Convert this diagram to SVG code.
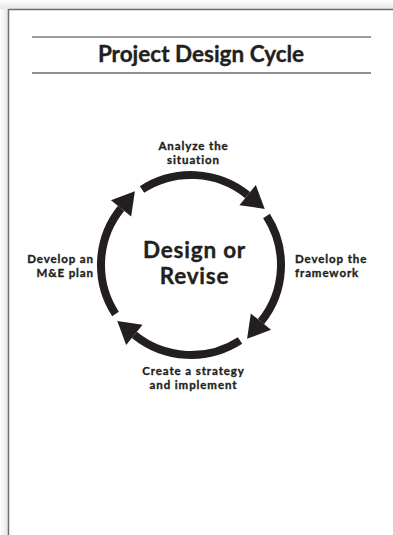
<svg xmlns="http://www.w3.org/2000/svg" xmlns:xlink="http://www.w3.org/1999/xlink" width="393" height="535" viewBox="0 0 393 535">
  <style>
    .t { font-family: Lato, "Liberation Sans", sans-serif; font-weight: bold; fill: #231f20; stroke: #231f20; stroke-width: 0.35; }
    .lbl { font-size: 11.5px; letter-spacing: 0.9px; }
    .big { font-size: 22.5px; letter-spacing: 0.8px; }
    .ring { fill: none; stroke: #231f20; stroke-width: 8; stroke-linecap: butt; }
    .head { fill: #231f20; }
  </style>
  <defs>
    <linearGradient id="shL" x1="0" y1="0" x2="1" y2="0">
      <stop offset="0" stop-color="#ffffff"/>
      <stop offset="1" stop-color="#e6e6e6"/>
    </linearGradient>
    <linearGradient id="shT" x1="0" y1="0" x2="0" y2="1">
      <stop offset="0" stop-color="#ffffff"/>
      <stop offset="1" stop-color="#e6e6e6"/>
    </linearGradient>
    <g id="arcArrow">
      <path class="ring" d="M 141.99 189.52 A 90 90 0 0 1 247.64 195.06"/>
      <polygon class="head" points="0,-13 22,0 0,13" transform="translate(247.64 195.06) rotate(39)"/>
    </g>
  </defs>

  <g id="page">
    <rect x="0" y="0" width="393" height="535" fill="#ffffff"/>
    <rect x="0" y="0" width="8" height="535" fill="url(#shL)"/>
    <rect x="0" y="0" width="393" height="9" fill="url(#shT)"/>
    <line x1="8.5" y1="9.5" x2="393" y2="9.5" stroke="#6e6e6e" stroke-width="1.5"/>
    <line x1="8.5" y1="9" x2="8.5" y2="535" stroke="#6e6e6e" stroke-width="1.5"/>
  </g>

  <g id="title">
    <line x1="32" y1="37" x2="371" y2="37" stroke="#3a3a3a" stroke-width="1"/>
    <text class="t" x="201" y="62" font-size="22.5" text-anchor="middle">Project Design Cycle</text>
    <line x1="32" y1="73" x2="371" y2="73" stroke="#6a6a6a" stroke-width="1.5"/>
  </g>

  <g id="connectors">
    <use xlink:href="#arcArrow"/>
    <use xlink:href="#arcArrow" transform="rotate(90 191 265)"/>
    <use xlink:href="#arcArrow" transform="rotate(180 191 265)"/>
    <use xlink:href="#arcArrow" transform="rotate(270 191 265)"/>
  </g>

  <g id="center">
    <text class="t big" x="194.5" y="258" text-anchor="middle">Design or</text>
    <text class="t big" x="194.5" y="284" text-anchor="middle">Revise</text>
  </g>

  <g id="analyze">
    <text class="t lbl" x="193.5" y="149.5" text-anchor="middle">Analyze the</text>
    <text class="t lbl" x="193.5" y="163.5" text-anchor="middle">situation</text>
  </g>

  <g id="framework">
    <text class="t lbl" x="295" y="262.5">Develop the</text>
    <text class="t lbl" x="295" y="276.5">framework</text>
  </g>

  <g id="strategy">
    <text class="t lbl" x="193.5" y="374.5" text-anchor="middle">Create a strategy</text>
    <text class="t lbl" x="193.5" y="388.5" text-anchor="middle">and implement</text>
  </g>

  <g id="mande">
    <text class="t lbl" x="94" y="262.5" text-anchor="end">Develop an</text>
    <text class="t lbl" x="94" y="276.5" text-anchor="end">M&amp;E plan</text>
  </g>
</svg>
